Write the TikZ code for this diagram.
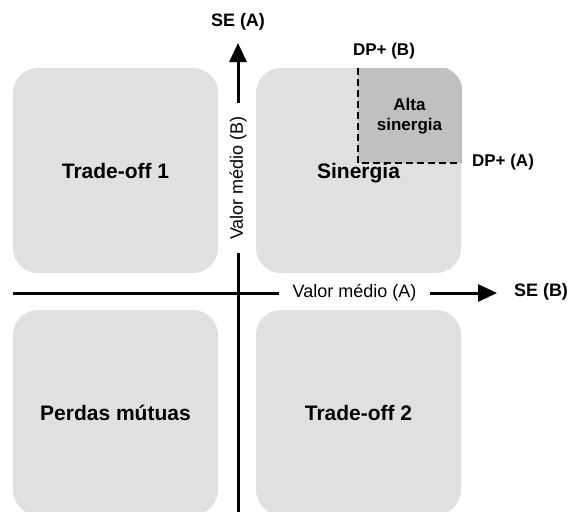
\documentclass[tikz,border=0pt]{standalone}
\usepackage{fontspec}
\setmainfont{Liberation Sans}
\usetikzlibrary{arrows.meta}
\definecolor{quadfill}{RGB}{224,224,224}
\definecolor{altafill}{RGB}{192,192,192}
\begin{document}
\begin{tikzpicture}[x=1pt, y=-1pt, line width=3pt,
    quad/.style = {fill=quadfill, rounded corners=25pt, minimum width=205pt, minimum height=205pt, inner sep=0pt, font=\fontsize{21}{25}\selectfont\bfseries},
    lab/.style = {font=\fontsize{18}{21}\selectfont\bfseries, inner sep=1pt},
    dp/.style = {font=\fontsize{17}{20}\selectfont\bfseries, inner sep=1pt},
    axlab/.style = {font=\fontsize{18}{21}\selectfont, inner xsep=12pt, inner ysep=1pt},
    arr/.style = {-{Triangle[length=19pt, width=17pt]}}]
                  \useasboundingbox (0,0) rectangle (569,511);
                  \clip (0,0) rectangle (569,511);
                  \node[quad] (to1) at (115.5,170.5) {Trade-off 1};
                  \node[quad] (sin) at (358.5,170.5) {};
                  \node[quad] (pm) at (115.5,412.5) {Perdas mútuas};
                  \node[quad] (to2) at (358.5,412.5) {Trade-off 2};
                  % alta sinergia
                  \begin{scope}
                    \clip[rounded corners=25pt] (sin.north west) rectangle (sin.south east);
                    \fill[altafill] (358,68) rectangle (sin.north east |- 0,163);
                  \end{scope}
                  \node[font=\fontsize{21}{25}\selectfont\bfseries] (sintxt) at (358.5,173) {Sinergia};
                  \node[dp, align=center, font=\fontsize{17}{20}\selectfont\bfseries] (alta) at (409.5,116) {Alta\\sinergia};
                  \coordinate (d1) at (358,68);
                  \coordinate (d2) at (358,163);
                  \coordinate (d3) at (461,163);
                  \draw[line width=2pt, dash pattern=on 7pt off 4pt] (d1) -- (d2) -- (d3);
                  \node[dp] (dpb) at (384,51) {DP+ (B)};
                  \node[dp] (dpa) at (503,162) {DP+ (A)};
                  % eixos
                  \coordinate (ytop) at (238,43);
                  \coordinate (ybot) at (238,520);
                  \node[axlab, rotate=90] (ylab) at (238,178) {Valor médio (B)};
                  \draw (ybot) -- (ylab.west);
                  \draw[arr] (ylab.east) -- (ytop);
                  \coordinate (xl) at (13,293);
                  \coordinate (xr) at (497,293);
                  \node[axlab] (xlab) at (354.5,293) {Valor médio (A)};
                  \draw (xl) -- (xlab.west);
                  \draw[arr] (xlab.east) -- (xr);
                  \node[lab] (sea) at (238,22) {SE (A)};
                  \node[lab] (seb) at (541,292) {SE (B)};
              \end{tikzpicture}
\end{document}
